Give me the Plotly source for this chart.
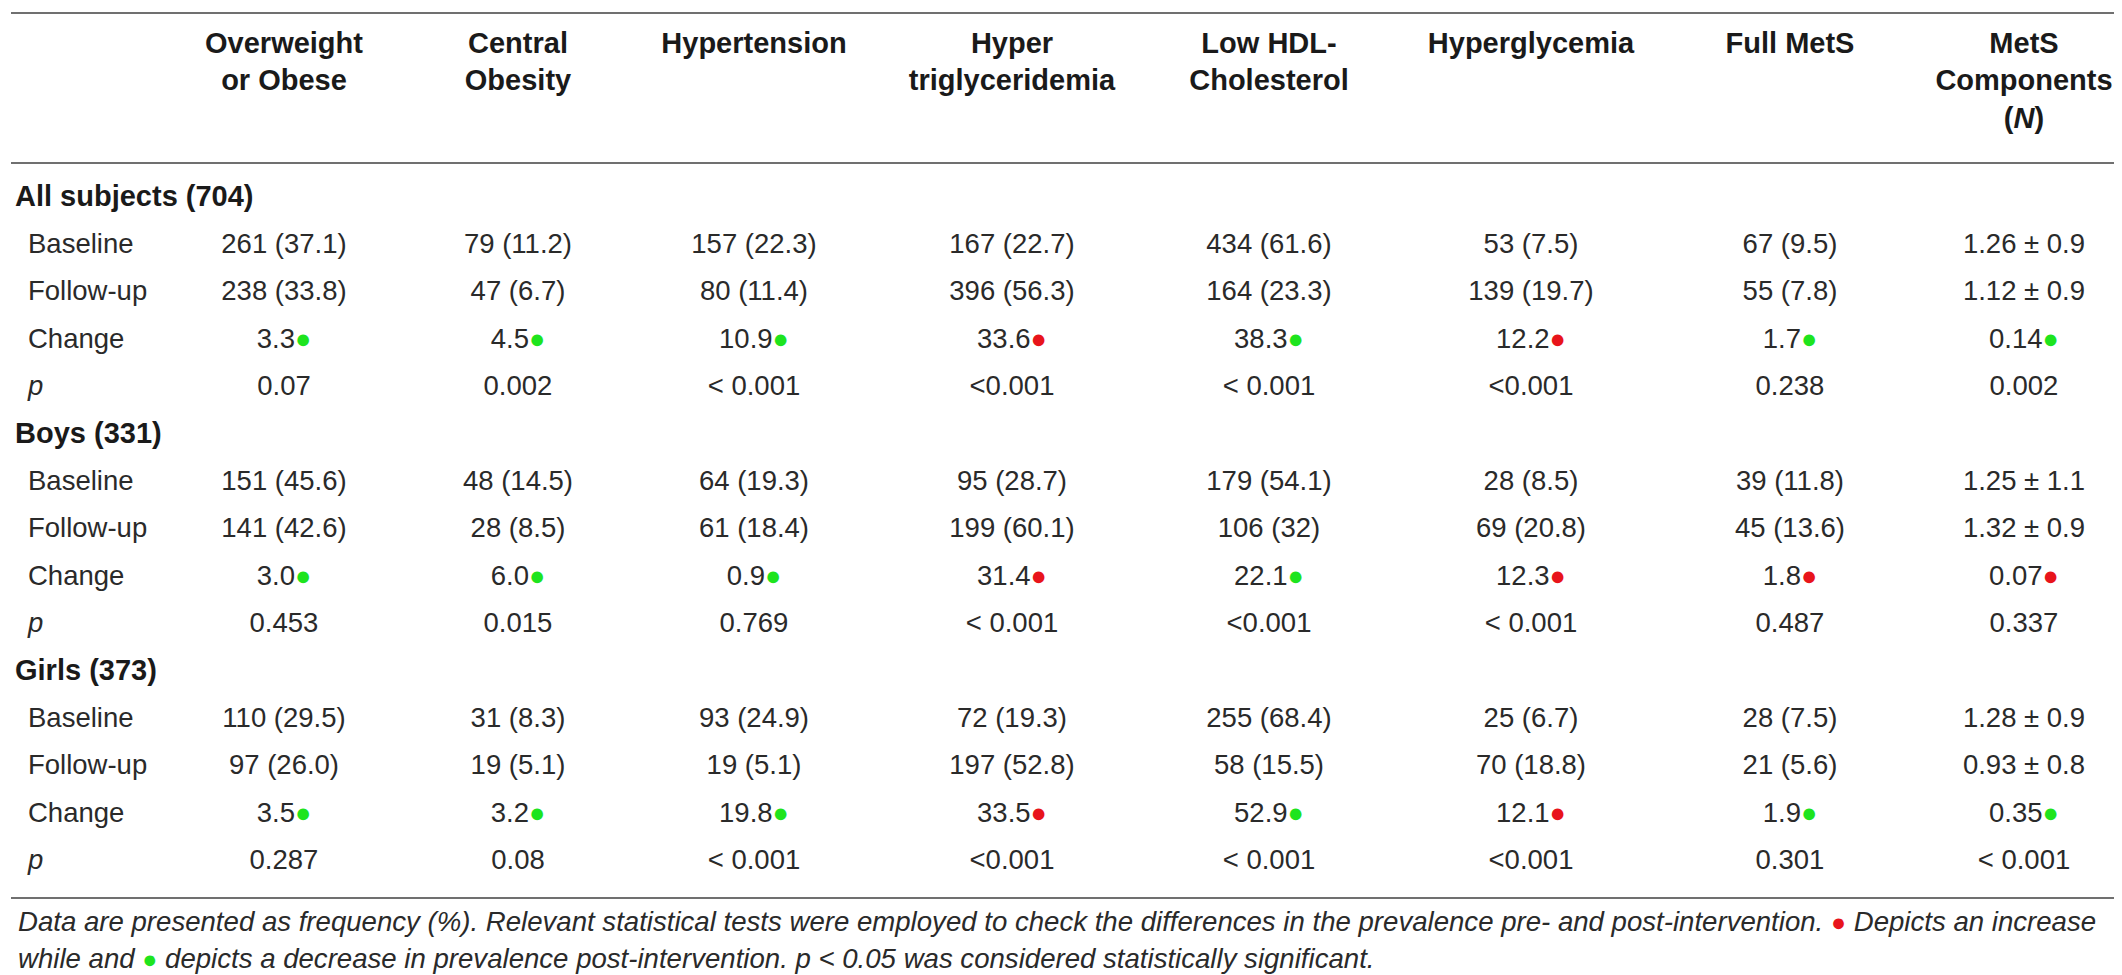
import plotly.graph_objects as go

# Colunas da tabela (cabeçalho)
columns = [
    "Overweight<br>or Obese",
    "Central<br>Obesity",
    "Hypertension",
    "Hyper<br>triglyceridemia",
    "Low HDL-<br>Cholesterol",
    "Hyperglycemia",
    "Full MetS",
    "MetS<br>Components<br>(<i>N</i>)",
]

groups = ["All subjects (704)", "Boys (331)", "Girls (373)"]
row_labels = ["Baseline", "Follow-up", "Change", "p"]

# Dados por grupo
baseline = [
    ["261 (37.1)", "79 (11.2)", "157 (22.3)", "167 (22.7)", "434 (61.6)", "53 (7.5)", "67 (9.5)", "1.26 ± 0.9"],
    ["151 (45.6)", "48 (14.5)", "64 (19.3)", "95 (28.7)", "179 (54.1)", "28 (8.5)", "39 (11.8)", "1.25 ± 1.1"],
    ["110 (29.5)", "31 (8.3)", "93 (24.9)", "72 (19.3)", "255 (68.4)", "25 (6.7)", "28 (7.5)", "1.28 ± 0.9"],
]
follow_up = [
    ["238 (33.8)", "47 (6.7)", "80 (11.4)", "396 (56.3)", "164 (23.3)", "139 (19.7)", "55 (7.8)", "1.12 ± 0.9"],
    ["141 (42.6)", "28 (8.5)", "61 (18.4)", "199 (60.1)", "106 (32)", "69 (20.8)", "45 (13.6)", "1.32 ± 0.9"],
    ["97 (26.0)", "19 (5.1)", "19 (5.1)", "197 (52.8)", "58 (15.5)", "70 (18.8)", "21 (5.6)", "0.93 ± 0.8"],
]
change = [
    ["3.3", "4.5", "10.9", "33.6", "38.3", "12.2", "1.7", "0.14"],
    ["3.0", "6.0", "0.9", "31.4", "22.1", "12.3", "1.8", "0.07"],
    ["3.5", "3.2", "19.8", "33.5", "52.9", "12.1", "1.9", "0.35"],
]
# "up" = aumento (vermelho), "down" = diminuição (verde)
direction = [
    ["down", "down", "down", "up", "down", "up", "down", "down"],
    ["down", "down", "down", "up", "down", "up", "up", "up"],
    ["down", "down", "down", "up", "down", "up", "down", "down"],
]
p_values = [
    ["0.07", "0.002", "< 0.001", "<0.001", "< 0.001", "<0.001", "0.238", "0.002"],
    ["0.453", "0.015", "0.769", "< 0.001", "<0.001", "< 0.001", "0.487", "0.337"],
    ["0.287", "0.08", "< 0.001", "<0.001", "< 0.001", "<0.001", "0.301", "< 0.001"],
]

footnote_1 = ("Data are presented as frequency (%). Relevant statistical tests were employed to check the "
              "differences in the prevalence pre- and post-intervention. {red} Depicts an increase")
footnote_2 = ("while and {green} depicts a decrease in prevalence post-intervention. p &lt; 0.05 was "
              "considered statistically significant.")

# Estilo
W, H = 2122, 975
FONT = "Liberation Sans"
TEXT = "#2a2a2a"
RED = "#e8141b"
GREEN = "#1ee41e"
RULE = "#707070"
col_x = [276, 510, 746, 1004, 1261, 1523, 1782, 2016]
row0, row_h = 190.5, 47.4
body_size = 27.5
head_size = 29


def dot(color, size=27):
    return f"<span style='color:{color};font-size:{size}px'>●</span>"


fig = go.Figure()

# Cabeçalho
fig.add_trace(go.Scatter(
    x=col_x, y=[23] * len(columns), mode="text", text=[f"<b>{c}</b>" for c in columns],
    textposition="bottom center", textfont=dict(family=FONT, size=head_size, color="#1a1a1a"),
    hoverinfo="skip", showlegend=False,
))

# Corpo da tabela
r = 0
for g, group in enumerate(groups):
    fig.add_trace(go.Scatter(
        x=[7], y=[row0 + r * row_h], mode="text", text=[f"<b>{group}</b>"],
        textposition="middle right", textfont=dict(family=FONT, size=head_size, color="#1a1a1a"),
        hoverinfo="skip", showlegend=False,
    ))
    r += 1
    rows = [
        baseline[g],
        follow_up[g],
        [v + dot(RED if d == "up" else GREEN) for v, d in zip(change[g], direction[g])],
        p_values[g],
    ]
    for label, vals in zip(row_labels, rows):
        y = row0 + r * row_h
        lab = "<i>p</i>" if label == "p" else label
        fig.add_trace(go.Scatter(
            x=[20], y=[y], mode="text", text=[lab], textposition="middle right",
            textfont=dict(family=FONT, size=body_size, color=TEXT),
            hoverinfo="skip", showlegend=False,
        ))
        fig.add_trace(go.Scatter(
            x=col_x, y=[y] * len(vals), mode="text", text=vals, textposition="middle center",
            textfont=dict(family=FONT, size=body_size, color=TEXT),
            hoverinfo="skip", showlegend=False,
        ))
        r += 1

# Nota de rodapé
notes = [footnote_1.format(red=dot(RED, 25)), footnote_2.format(green=dot(GREEN, 25))]
fig.add_trace(go.Scatter(
    x=[10, 10], y=[916, 953], mode="text", text=[f"<i>{n}</i>" for n in notes],
    textposition="middle right", textfont=dict(family=FONT, size=27.6, color=TEXT),
    hoverinfo="skip", showlegend=False,
))

# Linhas horizontais da tabela
for yl in [5, 155, 890]:
    fig.add_shape(type="line", x0=3, x1=2116, y0=yl, y1=yl, line=dict(color=RULE, width=2))

fig.update_layout(
    width=W, height=H,
    margin=dict(l=0, r=0, t=0, b=0),
    paper_bgcolor="white", plot_bgcolor="white",
    xaxis=dict(range=[0, W], visible=False, fixedrange=True),
    yaxis=dict(range=[H, 0], visible=False, fixedrange=True),
)

fig.write_html("out.html")
